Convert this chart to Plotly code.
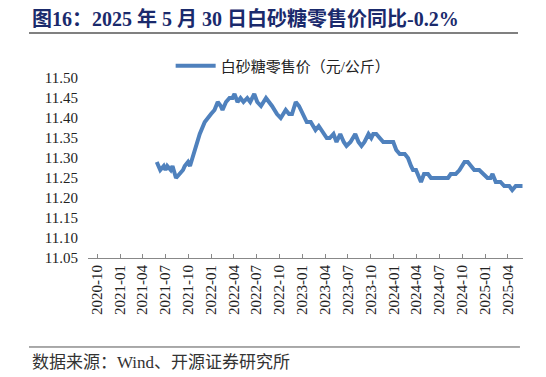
import plotly.graph_objects as go

dates = [
    "2021-05-28", "2021-06-11", "2021-06-25", "2021-07-02", "2021-07-09", "2021-07-23",
    "2021-07-30", "2021-08-13", "2021-08-27", "2021-09-10", "2021-09-17", "2021-09-30",
    "2021-10-08", "2021-10-29", "2021-11-16", "2021-12-06", "2021-12-17", "2021-12-31",
    "2022-01-14", "2022-01-27", "2022-02-08", "2022-02-15", "2022-03-01", "2022-03-15",
    "2022-03-27", "2022-04-04", "2022-04-16", "2022-04-28", "2022-05-10", "2022-05-25",
    "2022-06-06", "2022-06-22", "2022-07-04", "2022-07-19", "2022-08-08", "2022-08-21",
    "2022-09-01", "2022-09-21", "2022-10-06", "2022-10-26", "2022-11-08", "2022-11-20",
    "2022-12-05", "2022-12-18", "2023-01-07", "2023-01-18", "2023-02-03", "2023-02-22",
    "2023-03-07", "2023-03-19", "2023-04-08", "2023-04-20", "2023-05-05", "2023-05-17",
    "2023-06-01", "2023-06-15", "2023-06-26", "2023-07-12", "2023-07-31", "2023-08-13",
    "2023-08-25", "2023-09-06", "2023-09-22", "2023-10-03", "2023-10-11", "2023-10-23",
    "2023-11-04", "2023-11-20", "2023-12-10", "2023-12-30", "2024-01-11", "2024-01-25",
    "2024-02-14", "2024-02-27", "2024-03-10", "2024-03-18", "2024-03-30", "2024-04-07",
    "2024-04-19", "2024-05-01", "2024-05-09", "2024-05-17", "2024-05-29", "2024-08-05",
    "2024-08-16", "2024-09-05", "2024-09-20", "2024-10-10", "2024-10-23", "2024-11-04",
    "2024-11-18", "2024-12-08", "2024-12-22", "2025-01-10", "2025-01-22", "2025-01-30",
    "2025-02-12", "2025-03-03", "2025-03-18", "2025-04-07", "2025-04-19", "2025-05-03",
    "2025-05-30",
]
prices = [
    11.29, 11.27, 11.28, 11.27, 11.28, 11.27,
    11.28, 11.25, 11.26, 11.27, 11.28, 11.29,
    11.28, 11.32, 11.36, 11.39, 11.40, 11.41,
    11.42, 11.44, 11.43, 11.42, 11.44, 11.45,
    11.45, 11.46, 11.44, 11.45, 11.44, 11.45,
    11.44, 11.46, 11.44, 11.43, 11.45, 11.44,
    11.43, 11.41, 11.40, 11.42, 11.41, 11.41,
    11.44, 11.43, 11.40, 11.39, 11.39, 11.37,
    11.38, 11.37, 11.35, 11.35, 11.36, 11.34,
    11.36, 11.34, 11.33, 11.34, 11.36, 11.34,
    11.33, 11.34, 11.36, 11.35, 11.36, 11.36,
    11.35, 11.34, 11.34, 11.34, 11.32, 11.31,
    11.31, 11.30, 11.28, 11.27, 11.27, 11.26,
    11.24, 11.26, 11.26, 11.26, 11.25, 11.25,
    11.26, 11.26, 11.27, 11.29, 11.29, 11.28,
    11.27, 11.27, 11.26, 11.25, 11.25, 11.26,
    11.24, 11.24, 11.23, 11.23, 11.22, 11.23,
    11.23,
]

tick_vals = ["2020-10-01", "2021-01-01", "2021-04-01", "2021-07-01", "2021-10-01",
             "2022-01-01", "2022-04-01", "2022-07-01", "2022-10-01", "2023-01-01",
             "2023-04-01", "2023-07-01", "2023-10-01", "2024-01-01", "2024-04-01",
             "2024-07-01", "2024-10-01", "2025-01-01", "2025-04-01"]
tick_text = [d[:7] for d in tick_vals]
y_ticks = [11.05, 11.10, 11.15, 11.20, 11.25, 11.30, 11.35, 11.40, 11.45, 11.50]

series_name = "白砂糖零售价（元/公斤）"
title_text = "图16：2025 年 5 月 30 日白砂糖零售价同比-0.2%"
source_text = "数据来源：Wind、开源证券研究所"

FONT = "Liberation Serif, Noto Sans CJK SC, serif"

fig = go.Figure()
fig.add_trace(go.Scatter(
    x=dates, y=prices, mode="lines", name=series_name,
    line=dict(color="#4F81BD", width=4),
))

fig.update_layout(
    width=546, height=377,
    margin=dict(l=88, r=23, t=78, b=119, autoexpand=False),
    paper_bgcolor="white", plot_bgcolor="white",
    font=dict(family=FONT, size=15, color="#222222"),
    showlegend=True,
    legend=dict(orientation="h", x=0.19, y=1.067, xanchor="left", yanchor="middle",
                font=dict(family=FONT, size=15, color="#222222"),
                bgcolor="rgba(0,0,0,0)", itemwidth=40),
    xaxis=dict(type="date", range=["2020-08-26", "2025-06-01"],
               tickmode="array", tickvals=tick_vals, ticktext=tick_text,
               tickangle=-90, ticks="inside", ticklen=4, tickcolor="#888888",
               showline=True, linecolor="#888888", linewidth=1,
               showgrid=False, zeroline=False, automargin=False,
               tickfont=dict(family=FONT, size=15, color="#222222")),
    yaxis=dict(range=[11.05, 11.50], tickmode="array", tickvals=y_ticks,
               ticktext=[f"{v:.2f}" for v in y_ticks],
               showline=False, showgrid=False, zeroline=False,
               ticks="outside", ticklen=6, tickcolor="rgba(0,0,0,0)",
               automargin=False,
               tickfont=dict(family=FONT, size=15, color="#222222")),
)

fig.add_annotation(text="<b>" + title_text + "</b>", xref="paper", yref="paper",
                   x=-0.1333, y=1.333, xanchor="left", yanchor="middle", showarrow=False,
                   font=dict(family=FONT, size=20, color="#1a2a6c"))
fig.add_shape(type="line", xref="paper", yref="paper", x0=-0.1356, x1=0.9885,
              y0=1.25, y1=1.25, line=dict(color="#808080", width=2))
fig.add_shape(type="line", xref="paper", yref="paper", x0=-0.1356, x1=0.993,
              y0=-0.4944, y1=-0.4944, line=dict(color="#555555", width=1))
fig.add_annotation(text=source_text, xref="paper", yref="paper",
                   x=-0.1333, y=-0.5833, xanchor="left", yanchor="middle", showarrow=False,
                   font=dict(family=FONT, size=17, color="#333333"))

fig.write_html("out.html", config={"displayModeBar": False},
               post_script="document.body.style.margin='0';document.body.style.overflow='hidden';")
